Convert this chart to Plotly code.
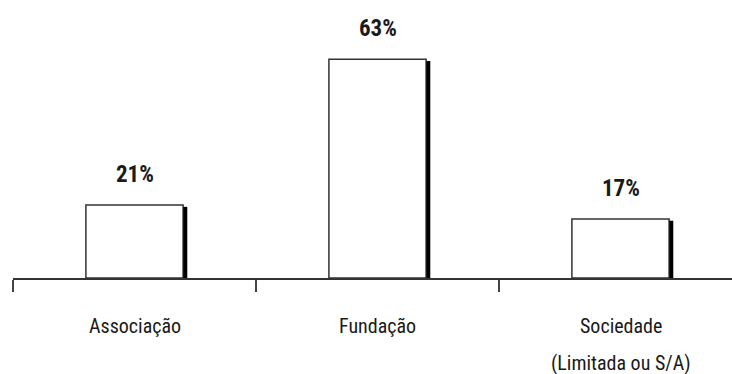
import plotly.graph_objects as go

categories = ["Associação", "Fundação", "Sociedade<br>(Limitada ou S/A)"]
values = [21, 63, 17]
labels = ["21%", "63%", "17%"]

FONT = "Roboto Condensed, Liberation Sans Narrow, Arial Narrow, sans-serif"
BAR_W = 0.4

fig = go.Figure()
fig.add_trace(go.Bar(
    x=categories, y=values, width=BAR_W,
    marker=dict(color="white", line=dict(color="#333333", width=1.5)),
    hoverinfo="skip", showlegend=False,
))

# shadow on the right edge of each bar
for i, v in enumerate(values):
    fig.add_shape(type="line", xref="x", yref="y",
                  x0=i + BAR_W / 2 + 0.009, x1=i + BAR_W / 2 + 0.009,
                  y0=0, y1=v - 0.5,
                  line=dict(color="black", width=4))

# value labels
for c, v, t in zip(categories, values, labels):
    fig.add_annotation(x=c, y=v, text="<b>" + t + "</b>", showarrow=False,
                       yanchor="bottom", yshift=15,
                       font=dict(family=FONT, size=23, color="#1a1a1a"))

# category labels (split lines for custom spacing)
for i, c in enumerate(categories):
    parts = c.split("<br>")
    for j, p in enumerate(parts):
        fig.add_annotation(x=i, y=0, xref="x", yref="y", text=p, showarrow=False,
                           yanchor="top", yshift=-34 - 37 * j,
                           font=dict(family=FONT, size=20, color="#1a1a1a"))

fig.update_layout(
    width=732, height=374,
    margin=dict(l=13, r=0, t=35, b=96),
    paper_bgcolor="white", plot_bgcolor="white",
    bargap=0.6,
)
fig.update_xaxes(
    type="category", range=[-0.5, -0.5 + 719 / 243],
    showline=True, linecolor="#333333", linewidth=2,
    ticks="outside", tickson="boundaries", ticklen=12, tickwidth=2, tickcolor="#444444",
    showticklabels=False, showgrid=False, zeroline=False, fixedrange=True,
)
fig.update_yaxes(
    range=[0, 70], visible=False, showgrid=False, zeroline=False, fixedrange=True,
)

fig.write_html("out.html")
